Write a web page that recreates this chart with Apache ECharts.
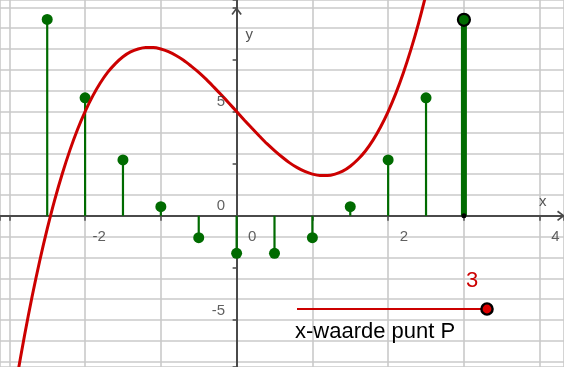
<!DOCTYPE html>
<html>
<head>
<meta charset="utf-8">
<script src="https://cdn.jsdelivr.net/npm/echarts@6/dist/echarts.min.js"></script>
<style>
    html, body { margin: 0; padding: 0; background: #fff; }
    #chart { width: 564px; height: 367px; }
</style>
</head>
<body>
<div id="chart"></div>
<script>
// zichtbaar venster (assen)
const xMin = -3.123, xMax = 4.321;
const yMin = -7.25, yMax = 10.35;

// staafjes (groene punten)
const stemX = [-2.5, -2, -1.5, -1, -0.5, 0, 0.5, 1, 1.5, 2, 2.5, 3];
const stemY = [9.42, 5.66, 2.68, 0.44, -1.05, -1.8, -1.8, -1.05, 0.44, 2.68, 5.66, 9.4];

const curveX = [-3, -2.9, -2.8, -2.7, -2.6, -2.5, -2.4, -2.3, -2.2, -2.1,
    -2, -1.9, -1.8, -1.7, -1.6, -1.5, -1.4, -1.3, -1.2, -1.1,
    -1, -0.9, -0.8, -0.7, -0.6, -0.5, -0.4, -0.3, -0.2, -0.1,
    0, 0.1, 0.2, 0.3, 0.4, 0.5, 0.6, 0.7, 0.8, 0.9,
    1, 1.1, 1.2, 1.3, 1.4, 1.5, 1.6, 1.7, 1.8, 1.9,
    2, 2.1, 2.2, 2.3, 2.4, 2.5, 2.6];
const curveY = [-10, -7.79, -5.75, -3.88, -2.18, -0.63, 0.78, 2.03, 3.15, 4.14,
    5.0, 5.74, 6.37, 6.89, 7.30, 7.63, 7.86, 8.0, 8.07, 8.07,
    8.0, 7.87, 7.69, 7.46, 7.18, 6.88, 6.54, 6.17, 5.79, 5.4,
    5.0, 4.6, 4.21, 3.83, 3.46, 3.13, 2.82, 2.54, 2.31, 2.13,
    2.0, 1.93, 1.93, 2.0, 2.14, 2.38, 2.7, 3.11, 3.63, 4.26,
    5.0, 5.86, 6.85, 7.97, 9.22, 10.63, 12.18];

const xTickLabels = [-2, 0, 2, 4];
const yTickLabels = [-5, 0, 5];

// schuifknop
const sliderValue = 3;
const sliderLabel = 'x-waarde punt P';

const FONT = '"Liberation Sans", Arial, sans-serif';
const AXIS_COLOR = '#4a4a4a';
const GRID_COLOR = '#cacaca';
const LABEL_COLOR = '#383838';
const GREEN = '#006b00';
const RED = '#cc0000';
const ARROW = 'path://M0,8 L6,0 L12,8 L10.4,9.2 L6,3.2 L1.6,9.2 Z';

const stemPairs = stemX.map((x, i) => [x, stemY[i]]);
const normalDots = stemPairs.filter(p => p[0] !== sliderValue);
const activeDot = stemPairs.filter(p => p[0] === sliderValue);

// getallen langs de assen, rechtsonder (x) en linksboven (y) van het streepje
const xLabelItems = xTickLabels.map(v => ({
    value: [v, 0],
    label: { formatter: String(v), position: [v < 0 ? 8 : 12, 14] }
}));
const yLabelItems = yTickLabels.map(v => ({
    value: [0, v],
    label: { formatter: String(v), position: [-11, -9] }
}));

const tickLabelStyle = {
    show: true,
    color: LABEL_COLOR,
    fontSize: 15,
    fontFamily: FONT
};

const chart = echarts.init(document.getElementById('chart'));

chart.setOption({
    animation: false,
    backgroundColor: '#fff',
    grid: { left: 0, right: 0, top: 0, bottom: 0, containLabel: false, outerBoundsMode: 'none' },
    xAxis: [{
        type: 'value',
        min: xMin,
        max: xMax,
        minInterval: 1,
        maxInterval: 1,
        name: 'x',
        nameLocation: 'end',
        nameGap: -25,
        nameTextStyle: {
            color: '#555',
            fontSize: 15,
            fontFamily: FONT,
            verticalAlign: 'bottom',
            padding: [0, 0, 6, 0]
        },
        axisLine: {
            onZero: true,
            onZeroAxisIndex: 1,
            symbol: ['none', ARROW],
            symbolSize: [13, 8],
            symbolOffset: [0, -3],
            lineStyle: { color: AXIS_COLOR, width: 2 }
        },
        axisTick: { show: true, length: 5, lineStyle: { color: AXIS_COLOR, width: 1.5 } },
        axisLabel: { show: false },
        splitLine: { show: true, lineStyle: { color: GRID_COLOR, width: 1.6 } }
    }],
    yAxis: [{
        type: 'value',
        min: yMin,
        max: yMax,
        minInterval: 1,
        maxInterval: 1,
        axisLine: { show: false, onZero: false },
        axisTick: { show: false },
        axisLabel: { show: false },
        splitLine: { show: true, lineStyle: { color: GRID_COLOR, width: 1.6 } }
    }, {
        type: 'value',
        position: 'left',
        min: yMin,
        max: yMax,
        minInterval: 2.5,
        maxInterval: 2.5,
        name: 'y',
        nameLocation: 'end',
        nameGap: -42,
        nameTextStyle: {
            color: '#555',
            fontSize: 15,
            fontFamily: FONT,
            align: 'left',
            padding: [0, 0, 0, 9]
        },
        axisLine: {
            onZero: true,
            onZeroAxisIndex: 0,
            symbol: ['none', ARROW],
            symbolSize: [13, 8],
            symbolOffset: [0, -11],
            lineStyle: { color: AXIS_COLOR, width: 2 }
        },
        axisTick: { show: true, length: 4, lineStyle: { color: AXIS_COLOR, width: 1.5 } },
        axisLabel: { show: false },
        splitLine: { show: false }
    }],
    series: [
        {
            type: 'custom',
            name: 'staafjes',
            xAxisIndex: 0,
            yAxisIndex: 0,
            data: stemPairs,
            encode: { x: 0, y: 1 },
            z: 3,
            renderItem: (params, api) => {
                const x = api.value(0);
                const y = api.value(1);
                const p0 = api.coord([x, 0]);
                const p1 = api.coord([x, y]);
                const active = x === sliderValue;
                return {
                    type: 'line',
                    shape: { x1: p0[0], y1: p0[1], x2: p1[0], y2: p1[1] },
                    style: { stroke: GREEN, lineWidth: active ? 6 : 2.2 }
                };
            }
        },
        {
            type: 'scatter',
            name: 'punten',
            data: normalDots,
            symbol: 'circle',
            symbolSize: 11,
            z: 4,
            itemStyle: { color: GREEN, opacity: 1 }
        },
        {
            type: 'line',
            name: 'f',
            data: curveX.map((x, i) => [x, curveY[i]]),
            smooth: 0.3,
            showSymbol: false,
            clip: true,
            z: 5,
            lineStyle: { color: RED, width: 3 }
        },
        {
            type: 'scatter',
            name: 'P',
            data: activeDot,
            symbol: 'circle',
            symbolSize: 12,
            z: 6,
            itemStyle: { color: GREEN, borderColor: '#000', borderWidth: 2.2, opacity: 1 }
        },
        {
            type: 'scatter',
            name: 'voet',
            data: [[sliderValue, 0]],
            symbol: 'circle',
            symbolSize: 5,
            z: 6,
            itemStyle: { color: '#000', opacity: 1 }
        },
        {
            type: 'scatter',
            name: 'x-getallen',
            data: xLabelItems,
            symbol: 'circle',
            symbolSize: 1,
            silent: true,
            z: 7,
            itemStyle: { color: 'transparent' },
            label: Object.assign({ align: 'left', verticalAlign: 'top' }, tickLabelStyle)
        },
        {
            type: 'scatter',
            name: 'y-getallen',
            xAxisIndex: 0,
            yAxisIndex: 1,
            data: yLabelItems,
            symbol: 'circle',
            symbolSize: 1,
            silent: true,
            z: 7,
            itemStyle: { color: 'transparent' },
            label: Object.assign({ align: 'right', verticalAlign: 'middle' }, tickLabelStyle)
        }
    ],
    graphic: [
        {
            type: 'line',
            z: 100,
            shape: { x1: 297, y1: 309, x2: 487, y2: 309 },
            style: { stroke: RED, lineWidth: 2.2 }
        },
        {
            type: 'circle',
            z: 101,
            shape: { cx: 487, cy: 309, r: 5.6 },
            style: { fill: '#dd0000', stroke: '#000', lineWidth: 2.4 }
        },
        {
            type: 'text',
            z: 101,
            x: 472,
            y: 281,
            style: {
                text: String(sliderValue),
                fill: RED,
                fontSize: 22,
                fontFamily: FONT,
                align: 'center',
                verticalAlign: 'middle'
            }
        },
        {
            type: 'text',
            z: 101,
            x: 295,
            y: 332,
            style: {
                text: sliderLabel,
                fill: '#000',
                fontSize: 22,
                fontFamily: FONT,
                align: 'left',
                verticalAlign: 'middle'
            }
        }
    ]
});
</script>
</body>
</html>
